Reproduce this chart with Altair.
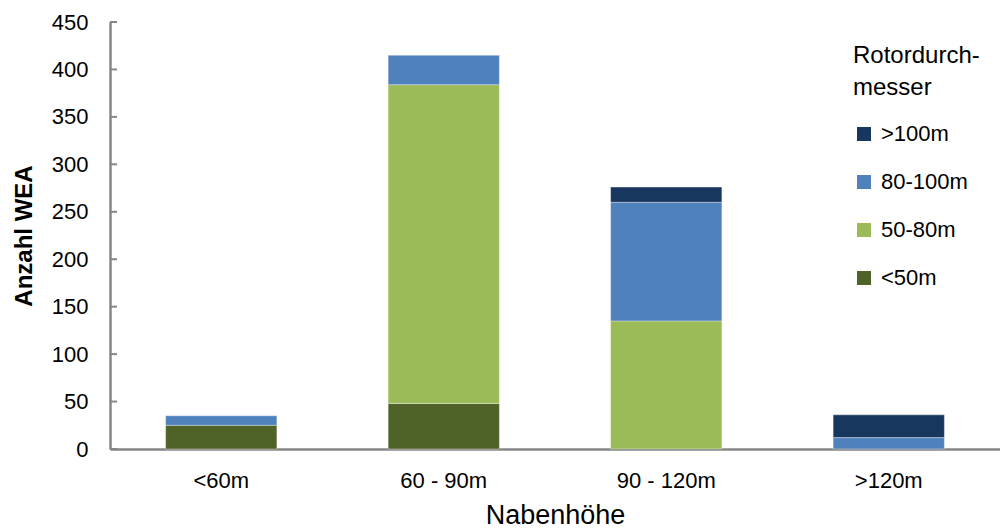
import altair as alt
import pandas as pd

categories = ["<60m", "60 - 90m", "90 - 120m", ">120m"]
series = [">100m", "80-100m", "50-80m", "<50m"]
v_lt50 = [25, 48, 0, 0]
v_50_80 = [0, 336, 135, 0]
v_80_100 = [10, 31, 125, 12]
v_gt100 = [0, 0, 16, 24]
colors = ["#17375E", "#4F81BD", "#9BBB59", "#4F6228"]
y_ticks = [0, 50, 100, 150, 200, 250, 300, 350, 400, 450]

rows = []
for name, vals, order in [("<50m", v_lt50, 0), ("50-80m", v_50_80, 1), ("80-100m", v_80_100, 2), (">100m", v_gt100, 3)]:
    for c, v in zip(categories, vals):
        rows.append({"Nabenhöhe": c, "Rotor": name, "Anzahl": v, "ord": order})
df = pd.DataFrame(rows)
ticks_df = pd.DataFrame({"t": y_ticks})

FONT = "Liberation Sans"
yscale = alt.Scale(domain=[0, 450], nice=False)

bars = alt.Chart(df).transform_filter("datum.Anzahl > 0").mark_bar(
    stroke="white", strokeWidth=0.6, strokeOpacity=0.6).encode(
    x=alt.X("Nabenhöhe:N", sort=categories,
            scale=alt.Scale(domain=categories, paddingInner=0.5, paddingOuter=0.25),
            axis=alt.Axis(title="Nabenhöhe", labelAngle=0, labelFontSize=22, labelColor="black",
                          labelFont=FONT, labelPadding=21, ticks=False, domainColor="#868686",
                          domainWidth=2.5, titleFontSize=27, titleFont=FONT, titleFontWeight="normal",
                          titlePadding=11, titleColor="black")),
    y=alt.Y("Anzahl:Q", stack="zero", scale=yscale,
            axis=alt.Axis(title="Anzahl WEA", values=y_ticks, grid=False, ticks=False,
                          labelFontSize=22, labelColor="black", labelFont=FONT, labelPadding=22,
                          domainColor="#868686", domainWidth=2.5, titleFontSize=24, titleFont=FONT,
                          titleFontWeight="bold", titleColor="black", titlePadding=15)),
    color=alt.Color("Rotor:N", scale=alt.Scale(domain=series, range=colors),
                    legend=alt.Legend(title=["Rotordurch-", "messer"], orient="none",
                                      legendX=743, legendY=22, titleFontSize=24,
                                      titleFont=FONT, titleFontWeight="normal", titleColor="black",
                                      labelFontSize=22, labelFont=FONT, labelColor="black",
                                      symbolType="square", symbolSize=196, symbolStrokeWidth=0,
                                      rowPadding=26, titlePadding=23, titleLineHeight=32,
                                      labelOffset=6)),
    order=alt.Order("ord:Q", sort="ascending"),
)

tick_marks = alt.Chart(ticks_df).mark_rule(color="#868686", strokeWidth=2).encode(
    y=alt.Y("t:Q", scale=yscale),
    x=alt.value(0),
    x2=alt.value(7),
)

chart = alt.layer(bars, tick_marks).properties(
    width=890, height=427,
    autosize=alt.AutoSizeParams(type="none"),
    padding={"left": 102, "top": 14, "right": 0, "bottom": 82},
).configure_view(stroke=None)

chart.save("out.html", embed_options={"renderer": "svg", "actions": False})
